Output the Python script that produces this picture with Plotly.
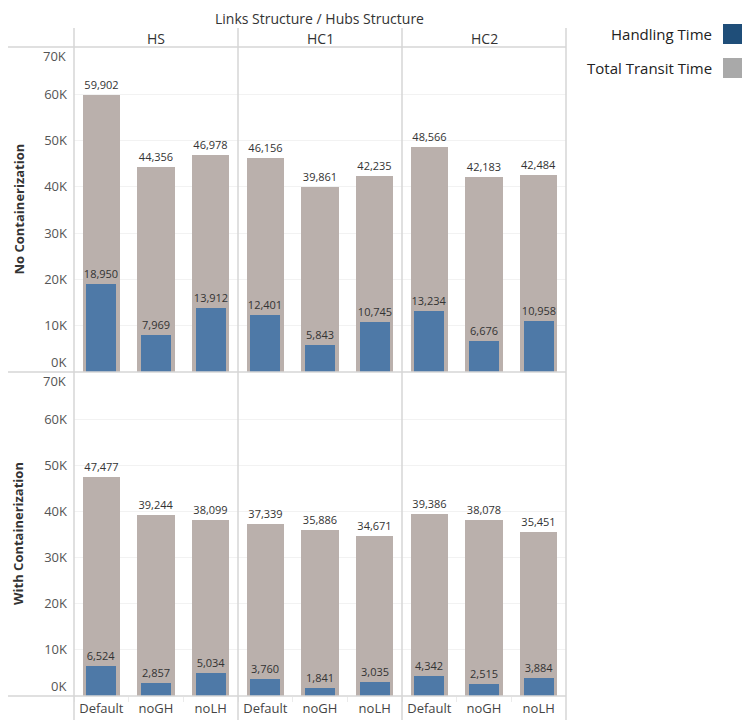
import plotly.graph_objects as go
from plotly.subplots import make_subplots

# data
hubs = ["HS", "HC1", "HC2"]
scenarios = ["Default", "noGH", "noLH"]
row_titles = ["No Containerization", "With Containerization"]

# one inner list per hub structure (HS, HC1, HC2), in scenario order
transit_no_cont = [[59902, 44356, 46978], [46156, 39861, 42235], [48566, 42183, 42484]]
handling_no_cont = [[18950, 7969, 13912], [12401, 5843, 10745], [13234, 6676, 10958]]
transit_with_cont = [[47477, 39244, 38099], [37339, 35886, 34671], [39386, 38078, 35451]]
handling_with_cont = [[6524, 2857, 5034], [3760, 1841, 3035], [4342, 2515, 3884]]

tick_vals = [10000, 20000, 30000, 40000, 50000, 60000]
tick_text = ["10K", "20K", "30K", "40K", "50K", "60K"]

# the page body has an 8px margin, so the figure is drawn 8px smaller
OFF = 8
W, H = 750 - OFF, 726 - OFF
FONT = "Open Sans"
GRAY = "#BAB0AC"
BLUE = "#4E79A7"
LINE = "#D6D6D6"

# pixel layout of the Tableau view (window coordinates)
col_edges = [74, 238, 402, 566]
row_edges = [47, 372, 696]


def px_x(v):
    return (v - OFF) / W


def px_y(v):
    return 1 - (v - OFF) / H


fig = make_subplots(rows=2, cols=3, horizontal_spacing=0, vertical_spacing=0)

rows_data = [(transit_no_cont, handling_no_cont), (transit_with_cont, handling_with_cont)]

for r, (transit, handling) in enumerate(rows_data, start=1):
    for c in range(1, 4):
        fig.add_trace(go.Bar(
            x=scenarios, y=transit[c - 1], width=0.68,
            marker=dict(color=GRAY, line=dict(width=0)),
            texttemplate="%{y:,}", textposition="outside", cliponaxis=False,
            textfont=dict(size=11, color="#333333", family=FONT),
            constraintext="none", name="Total Transit Time",
        ), row=r, col=c)
        fig.add_trace(go.Bar(
            x=scenarios, y=handling[c - 1], width=0.55,
            marker=dict(color=BLUE, line=dict(width=0)),
            texttemplate="%{y:,}", textposition="outside", cliponaxis=False,
            textfont=dict(size=11, color="#333333", family=FONT),
            constraintext="none", name="Handling Time",
        ), row=r, col=c)

        fig.update_xaxes(
            domain=[px_x(col_edges[c - 1]), px_x(col_edges[c])],
            showticklabels=(r == 2), showgrid=False, zeroline=False,
            ticks="outside" if r == 2 else "", tickson="boundaries",
            ticklen=5, tickcolor="#EBEBEB", ticklabelstandoff=3,
            tickfont=dict(size=13, color="#444444", family=FONT),
            row=r, col=c,
        )
        fig.update_yaxes(
            domain=[px_y(row_edges[r]), px_y(row_edges[r - 1])],
            range=[0, 70200], tickvals=tick_vals, ticktext=tick_text,
            showticklabels=(c == 1), showgrid=True, gridcolor="#F2F2F2",
            zeroline=False, ticks="", ticklabelstandoff=6,
            tickfont=dict(size=13, color="#555555", family=FONT),
            row=r, col=c,
        )

annotations = []
# edge tick labels, nudged inside the pane like Tableau does
for yref in ["y", "y4"]:
    annotations.append(dict(x=px_x(68), xref="paper", y=0, yref=yref, yshift=10,
                            text="0K", showarrow=False, xanchor="right", yanchor="middle",
                            font=dict(size=13, color="#555555", family=FONT)))
    annotations.append(dict(x=px_x(68), xref="paper", y=70000, yref=yref, yshift=-8,
                            text="70K", showarrow=False, xanchor="right", yanchor="middle",
                            font=dict(size=13, color="#555555", family=FONT)))

# row titles
for i, t in enumerate(row_titles):
    annotations.append(dict(x=px_x(18), y=px_y((row_edges[i] + row_edges[i + 1]) / 2),
                            xref="paper", yref="paper", text="<b>" + t + "</b>",
                            textangle=-90, showarrow=False,
                            xanchor="center", yanchor="middle",
                            font=dict(size=13, color="#333333", family=FONT)))

# column headers
for i, h in enumerate(hubs):
    annotations.append(dict(x=px_x((col_edges[i] + col_edges[i + 1]) / 2), y=px_y(38),
                            xref="paper", yref="paper", text=h, showarrow=False,
                            xanchor="center", yanchor="middle",
                            font=dict(size=14, color="#333333", family=FONT)))

annotations.append(dict(x=px_x(319), y=px_y(19), xref="paper", yref="paper",
                        text="Links Structure / Hubs Structure", showarrow=False,
                        xanchor="center", yanchor="middle",
                        font=dict(size=14, color="#333333", family=FONT)))

# legend
legend_items = [("Handling Time", "#1F4E79", 34), ("Total Transit Time", "#A9A9A9", 68)]
shapes = []
for label, color, yc in legend_items:
    annotations.append(dict(x=px_x(714), y=px_y(yc), xref="paper", yref="paper",
                            text=label, showarrow=False, xanchor="right", yanchor="middle",
                            font=dict(size=15, color="#222222", family=FONT)))
    shapes.append(dict(type="rect", xref="paper", yref="paper",
                       x0=px_x(723), x1=px_x(744), y0=px_y(yc + 10), y1=px_y(yc - 10),
                       fillcolor=color, line=dict(width=0)))

# pane borders
for yv in row_edges:
    shapes.append(dict(type="line", xref="paper", yref="paper",
                       x0=px_x(3), x1=px_x(566), y0=px_y(yv), y1=px_y(yv),
                       line=dict(color=LINE, width=1.5)))
for xv in col_edges:
    shapes.append(dict(type="line", xref="paper", yref="paper",
                       x0=px_x(xv), x1=px_x(xv), y0=px_y(28), y1=px_y(720),
                       line=dict(color=LINE, width=1.5)))

fig.update_layout(
    width=W, height=H, margin=dict(l=0, r=0, t=0, b=0),
    barmode="overlay", showlegend=False, bargap=0,
    plot_bgcolor="white", paper_bgcolor="white",
    font=dict(family=FONT),
    annotations=annotations, shapes=shapes,
)

fig.write_html("out.html")
